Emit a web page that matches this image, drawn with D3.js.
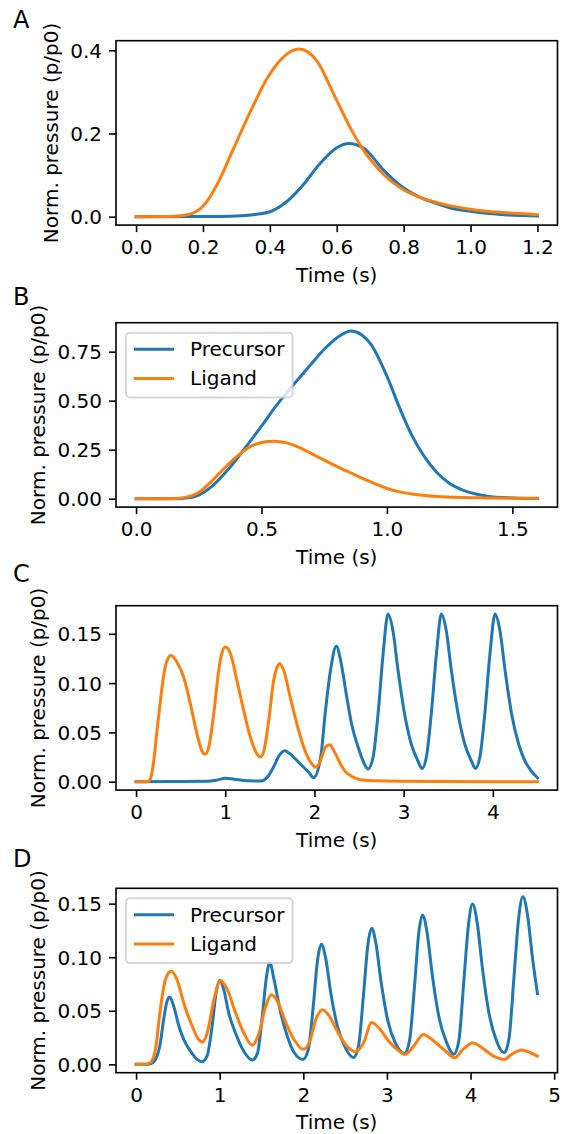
<!DOCTYPE html>
<html><head><meta charset="utf-8">
<script src="https://cdn.jsdelivr.net/npm/d3@7"></script>
<style>
body{margin:0;background:#fff}
svg text{font-family:"DejaVu Sans",sans-serif;fill:#000}
</style>
</head><body>
<svg id="chart" width="565" height="1134"></svg>
<script>
// ---------------- DATA ----------------
const seriesNames = ["Precursor", "Ligand"];
const panelLetters = ["A", "B", "C", "D"];
const xLabel = "Time (s)";
const yLabel = "Norm. pressure (p/p0)";

// Panel A
const tPrecursorA = [0,0.2,0.3,0.35,0.4,0.45,0.5,0.55,0.6,0.636,0.68,0.74,0.79,0.84,0.89,0.94,1.0,1.04,1.1,1.2];
const precursorA  = [0,0.0005,0.002,0.005,0.012,0.036,0.077,0.128,0.166,0.176,0.165,0.112,0.075,0.05,0.034,0.021,0.013,0.009,0.005,0.002];
const tLigandA = [0,0.1,0.15,0.2,0.242,0.292,0.342,0.392,0.442,0.487,0.542,0.592,0.641,0.676,0.741,0.791,0.841,0.89,0.94,1.0,1.04,1.1,1.2];
const ligandA  = [0,0.0005,0.004,0.025,0.077,0.165,0.253,0.333,0.385,0.403,0.373,0.293,0.213,0.165,0.101,0.069,0.049,0.036,0.026,0.018,0.014,0.010,0.005];
const xTicksA = [0,0.2,0.4,0.6,0.8,1.0,1.2];
const xTickLabelsA = ["0.0","0.2","0.4","0.6","0.8","1.0","1.2"];
const yTicksA = [0,0.2,0.4];
const yTickLabelsA = ["0.0","0.2","0.4"];

// Panel B
const tPrecursorB = [0,0.15,0.2,0.25,0.3,0.35,0.4,0.45,0.5,0.55,0.6,0.65,0.7,0.75,0.8,0.856,0.9,0.935,1.0,1.05,1.1,1.15,1.2,1.25,1.3,1.35,1.4,1.5,1.6];
const precursorB  = [0,0,0.003,0.018,0.06,0.125,0.2,0.285,0.37,0.46,0.54,0.615,0.69,0.762,0.82,0.855,0.835,0.79,0.625,0.465,0.322,0.213,0.132,0.078,0.045,0.025,0.013,0.004,0.001];
const tLigandB = [0,0.15,0.2,0.25,0.3,0.35,0.4,0.45,0.5,0.55,0.6,0.65,0.7,0.75,0.8,0.85,0.9,0.95,1.0,1.05,1.1,1.15,1.2,1.3,1.4,1.6];
const ligandB  = [0,0.001,0.008,0.032,0.087,0.153,0.213,0.262,0.287,0.293,0.285,0.262,0.23,0.197,0.165,0.135,0.105,0.078,0.052,0.035,0.024,0.016,0.011,0.006,0.004,0.002];
const xTicksB = [0,0.5,1.0,1.5];
const xTickLabelsB = ["0.0","0.5","1.0","1.5"];
const yTicksB = [0,0.25,0.5,0.75];
const yTickLabelsB = ["0.00","0.25","0.50","0.75"];

// Panel C
const tPrecursorC = [0,0.5,0.8,0.9,1.0,1.1,1.25,1.4,1.47,1.54,1.6,1.667,1.73,1.84,1.936,1.99,2.07,2.12,2.18,2.245,2.30,2.36,2.42,2.49,2.56,2.6,2.657,2.713,2.77,2.825,2.88,2.937,3.01,3.086,3.16,3.206,3.255,3.31,3.368,3.423,3.478,3.535,3.61,3.686,3.76,3.804,3.855,3.91,3.968,4.025,4.08,4.137,4.21,4.29,4.36,4.43,4.5];
const precursorC  = [0,0.0002,0.0004,0.0015,0.0035,0.0025,0.001,0.0008,0.0044,0.0146,0.026,0.0315,0.028,0.018,0.0095,0.004,0.025,0.069,0.113,0.1375,0.12,0.087,0.057,0.035,0.018,0.0129,0.0247,0.0687,0.13,0.170,0.153,0.113,0.069,0.038,0.021,0.0135,0.025,0.069,0.13,0.170,0.153,0.113,0.069,0.038,0.021,0.0135,0.025,0.069,0.13,0.170,0.153,0.113,0.069,0.038,0.021,0.011,0.004];
const tLigandC = [0,0.1,0.14,0.161,0.198,0.235,0.273,0.31,0.348,0.392,0.46,0.534,0.609,0.684,0.74,0.777,0.815,0.871,0.927,0.964,1.0,1.058,1.132,1.207,1.282,1.357,1.394,1.432,1.487,1.543,1.58,1.61,1.655,1.73,1.805,1.88,1.955,2.018,2.066,2.122,2.17,2.22,2.28,2.34,2.45,2.56,2.7,3.0,3.5,4.5];
const ligandC  = [0,0,0.0005,0.003,0.021,0.052,0.082,0.108,0.123,0.128,0.121,0.106,0.079,0.048,0.031,0.028,0.035,0.069,0.113,0.131,0.1365,0.130,0.102,0.072,0.045,0.028,0.025,0.031,0.062,0.103,0.116,0.120,0.113,0.085,0.058,0.035,0.02,0.0146,0.021,0.035,0.0376,0.031,0.02,0.011,0.004,0.0015,0.001,0.0005,0.0002,0];
const xTicksC = [0,1,2,3,4];
const xTickLabelsC = ["0","1","2","3","4"];
const yTicksC = [0,0.05,0.10,0.15];
const yTickLabelsC = ["0.00","0.05","0.10","0.15"];

// Panel D
const tPrecursorD = [0,0.1,0.17,0.232,0.29,0.33,0.371,0.403,0.451,0.511,0.571,0.65,0.73,0.79,0.85,0.91,0.958,1.0,1.048,1.108,1.19,1.29,1.39,1.45,1.51,1.56,1.6,1.65,1.73,1.81,1.89,1.996,2.06,2.12,2.17,2.216,2.27,2.33,2.41,2.5,2.6,2.66,2.72,2.77,2.818,2.87,2.93,3.01,3.1,3.21,3.27,3.33,3.38,3.425,3.48,3.54,3.62,3.71,3.8,3.86,3.92,3.975,4.024,4.08,4.14,4.22,4.31,4.403,4.46,4.52,4.575,4.627,4.68,4.74,4.8];
const precursorD  = [0,0,0.0005,0.0046,0.02,0.042,0.059,0.0629,0.054,0.036,0.023,0.0124,0.0046,0.0025,0.008,0.036,0.067,0.0784,0.07,0.048,0.029,0.012,0.004,0.01,0.045,0.082,0.095,0.079,0.048,0.026,0.011,0.0046,0.014,0.055,0.097,0.112,0.098,0.066,0.035,0.016,0.0062,0.017,0.065,0.11,0.127,0.112,0.077,0.041,0.02,0.0102,0.022,0.073,0.122,0.1394,0.123,0.085,0.045,0.021,0.0093,0.022,0.078,0.13,0.1497,0.132,0.091,0.048,0.022,0.0108,0.024,0.082,0.136,0.1565,0.14,0.1,0.066];
const tLigandD = [0,0.1,0.17,0.232,0.29,0.35,0.42,0.49,0.571,0.67,0.75,0.79,0.85,0.93,1.01,1.09,1.19,1.29,1.39,1.47,1.55,1.617,1.69,1.79,1.89,2.0,2.07,2.15,2.23,2.31,2.41,2.52,2.62,2.72,2.818,2.92,3.02,3.12,3.22,3.32,3.437,3.56,3.7,3.81,3.91,4.027,4.136,4.275,4.403,4.49,4.615,4.715,4.8];
const ligandD  = [0,0,0.0015,0.014,0.051,0.079,0.0868,0.079,0.057,0.036,0.023,0.0208,0.029,0.06,0.078,0.07,0.048,0.029,0.0177,0.029,0.054,0.065,0.059,0.039,0.023,0.014,0.02,0.042,0.051,0.045,0.0305,0.017,0.0118,0.02,0.039,0.0325,0.0217,0.014,0.0093,0.017,0.0279,0.0217,0.0124,0.0062,0.014,0.02,0.0155,0.0077,0.0046,0.0093,0.0133,0.0108,0.0077];
const xTicksD = [0,1,2,3,4,5];
const xTickLabelsD = ["0","1","2","3","4","5"];
const yTicksD = [0,0.05,0.10,0.15];
const yTickLabelsD = ["0.00","0.05","0.10","0.15"];

const colors = ["#1f77b4", "#ff7f0e"];

// ---------------- LAYOUT ----------------
const axLeft = 116, axRight = 557.5, axH = 184.4;
const axTops = [40.7, 322.7, 605.7, 888.3];
const letterX = 13, letterY = [28, 305, 582, 867];
const FS = 20, LETTER_FS = 24;

const panels = [
  {t:[tPrecursorA,tLigandA], v:[precursorA,ligandA], xt:xTicksA, xl:xTickLabelsA, yt:yTicksA, yl:yTickLabelsA, legend:false},
  {t:[tPrecursorB,tLigandB], v:[precursorB,ligandB], xt:xTicksB, xl:xTickLabelsB, yt:yTicksB, yl:yTickLabelsB, legend:true},
  {t:[tPrecursorC,tLigandC], v:[precursorC,ligandC], xt:xTicksC, xl:xTickLabelsC, yt:yTicksC, yl:yTickLabelsC, legend:false},
  {t:[tPrecursorD,tLigandD], v:[precursorD,ligandD], xt:xTicksD, xl:xTickLabelsD, yt:yTicksD, yl:yTickLabelsD, legend:true}
];

const svg = d3.select("#chart");
svg.append("rect").attr("width",565).attr("height",1134).attr("fill","#fff");

function padded(ext){ const r = ext[1]-ext[0]; return [ext[0]-0.05*r, ext[1]+0.05*r]; }

panels.forEach((p, i) => {
  const top = axTops[i], bottom = top + axH;
  const allT = p.t.flat(), allV = p.v.flat();
  const x = d3.scaleLinear().domain(padded(d3.extent(allT))).range([axLeft, axRight]);
  const y = d3.scaleLinear().domain(padded(d3.extent(allV))).range([bottom, top]);
  const g = svg.append("g");

  // lines
  const line = d3.line().x(d => x(d[0])).y(d => y(d[1])).curve(d3.curveMonotoneX);
  p.t.forEach((ts, k) => {
    g.append("path")
      .attr("d", line(d3.zip(ts, p.v[k])))
      .attr("fill","none").attr("stroke",colors[k]).attr("stroke-width",3)
      .attr("stroke-linejoin","round").attr("stroke-linecap","square");
  });

  // frame
  g.append("rect").attr("x",axLeft).attr("y",top).attr("width",axRight-axLeft).attr("height",axH)
    .attr("fill","none").attr("stroke","#000").attr("stroke-width",1.6);

  // x axis
  const xa = g.append("g").attr("transform",`translate(0,${bottom})`)
    .call(d3.axisBottom(x).tickValues(p.xt).tickFormat((d,j)=>p.xl[j]).tickSize(7).tickPadding(7));
  // y axis
  const ya = g.append("g").attr("transform",`translate(${axLeft},0)`)
    .call(d3.axisLeft(y).tickValues(p.yt).tickFormat((d,j)=>p.yl[j]).tickSize(7).tickPadding(7));
  [xa, ya].forEach(a => {
    a.select(".domain").remove();
    a.attr("font-family",null).attr("font-size",null);
    a.selectAll("line").attr("stroke","#000").attr("stroke-width",1.6);
    a.selectAll("text").attr("font-size",FS).attr("fill","#000");
  });
  xa.selectAll("text").attr("dy","0.76em");
  ya.selectAll("text").attr("dy","0.35em");

  // y label position from tick label widths
  let maxW = 0;
  ya.selectAll("text").each(function(){ maxW = Math.max(maxW, this.getComputedTextLength()); });
  const ylx = axLeft - 14 - maxW - 8 - 0.22*FS;
  g.append("text").text(yLabel)
    .attr("transform",`translate(${ylx},${top + axH/2}) rotate(-90)`)
    .attr("text-anchor","middle").attr("font-size",FS);

  // x label
  g.append("text").text(xLabel)
    .attr("x",(axLeft+axRight)/2).attr("y",bottom + 56.6)
    .attr("text-anchor","middle").attr("font-size",FS);

  // panel letter
  svg.append("text").text(panelLetters[i]).attr("x",letterX).attr("y",letterY[i]).attr("font-size",LETTER_FS);

  // legend
  if (p.legend) {
    const lx = axLeft + 10, ly = top + 10;
    const lg = g.append("g");
    const frame = lg.append("rect");
    const texts = seriesNames.map((n,k) => lg.append("text").text(n)
      .attr("x", lx + 64).attr("y", ly + 23.2 + k*29.4).attr("font-size",FS));
    let tw = 0; texts.forEach(t => tw = Math.max(tw, t.node().getComputedTextLength()));
    frame.attr("x",lx).attr("y",ly).attr("width",8+40+16+tw+8).attr("height",64.8)
      .attr("rx",4).attr("ry",4)
      .attr("fill","rgba(255,255,255,0.8)").attr("stroke","rgba(204,204,204,0.8)").attr("stroke-width",2);
    seriesNames.forEach((n,k) => {
      lg.append("line").attr("x1",lx+8).attr("x2",lx+48)
        .attr("y1",ly+16.5+k*29.2).attr("y2",ly+16.5+k*29.2)
        .attr("stroke",colors[k]).attr("stroke-width",3);
    });
  }
});
</script>
</body></html>
